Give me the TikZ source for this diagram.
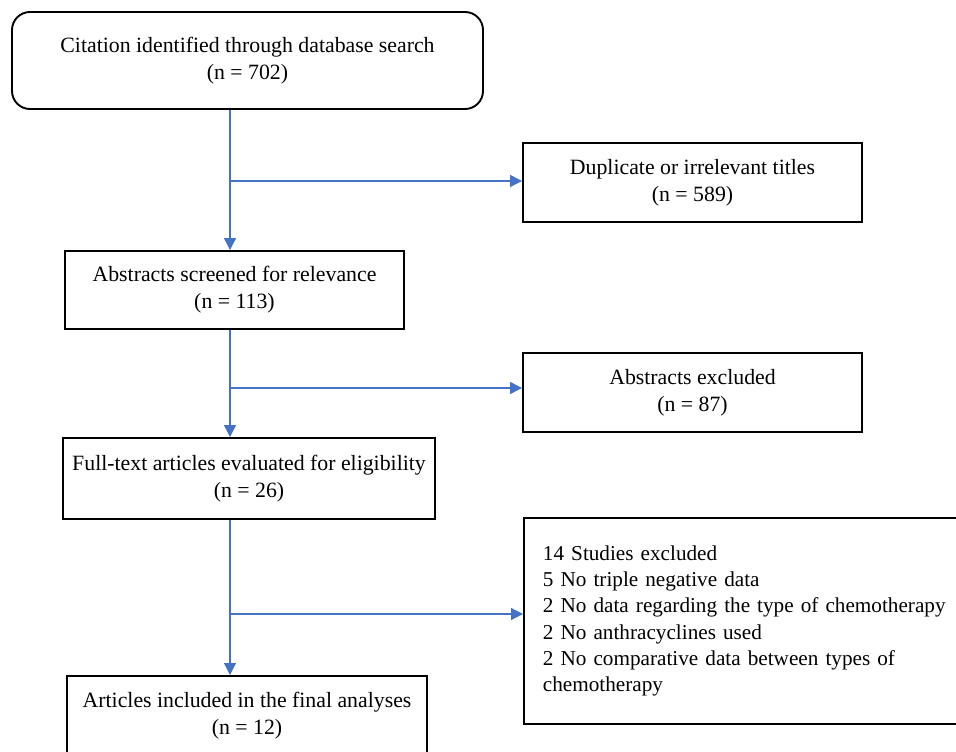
\documentclass[tikz,border=0pt]{standalone}
\usepackage{fontspec}
\setmainfont{Liberation Serif}
\usetikzlibrary{arrows.meta}
\definecolor{flowblue}{RGB}{68,114,196}

\begin{document}
\begin{tikzpicture}[
  x=1pt, y=-1pt, font=\fontsize{21.8}{27}\selectfont,
  % STYLES
  every node/.style={inner sep=4pt},
  % OWNs
  bnode/.style={rectangle,draw,line width=1.9pt,align=center},
  rnode/.style={bnode,rounded corners=18pt},
  lnode/.style={rectangle,draw,line width=1.9pt,align=left,inner xsep=19pt,
    font=\fontsize{21.2}{26.2}\selectfont},
  flow/.style={-{Triangle[length=12pt,width=12pt]},color=flowblue,line width=1.2pt}]

  \useasboundingbox (0,0) rectangle (956,752);

  \node[rnode, minimum width=471pt, minimum height=97pt] (cite) at (247.5,60.5)
    {Citation identified through database search\\(n = 702)};
  \node[bnode, minimum width=339pt, minimum height=79pt] (dup) at (692.5,182.5)
    {Duplicate or irrelevant titles\\(n = 589)};
  \node[bnode, minimum width=339pt, minimum height=78pt] (screen) at (234.5,290)
    {Abstracts screened for relevance\\(n = 113)};
  \node[bnode, minimum width=339pt, minimum height=79pt] (absx) at (692.5,392.5)
    {Abstracts excluded\\(n = 87)};
  \node[bnode, minimum width=372pt, minimum height=81pt] (full) at (249,478.5)
    {Full-text articles evaluated for eligibility\\(n = 26)};
  \node[lnode, anchor=north west, minimum height=206pt, text width=430pt] (studx) at (523,517)
    {14 Studies excluded\\5 No triple negative data\\2 No data regarding the type of chemotherapy\\%
     2 No anthracyclines used\\2 No comparative data between types of\\chemotherapy};
  \node[bnode, minimum width=360pt, minimum height=80pt, anchor=north] (incl) at (247,675)
    {Articles included in the final analyses\\(n = 12)};

  % branch points on the trunk
  \coordinate (b1) at (230,181);
  \coordinate (b2) at (230,388);
  \coordinate (b3) at (230,614);

  \path[flow]
    (cite.south -| b1) edge (screen.north -| b1)
    (b1) edge (b1 -| dup.west)
    (screen.south -| b1) edge (full.north -| b1)
    (b2) edge (b2 -| absx.west)
    (full.south -| b1) edge (incl.north -| b1)
    (b3) edge (b3 -| studx.west);
\end{tikzpicture}
\end{document}
